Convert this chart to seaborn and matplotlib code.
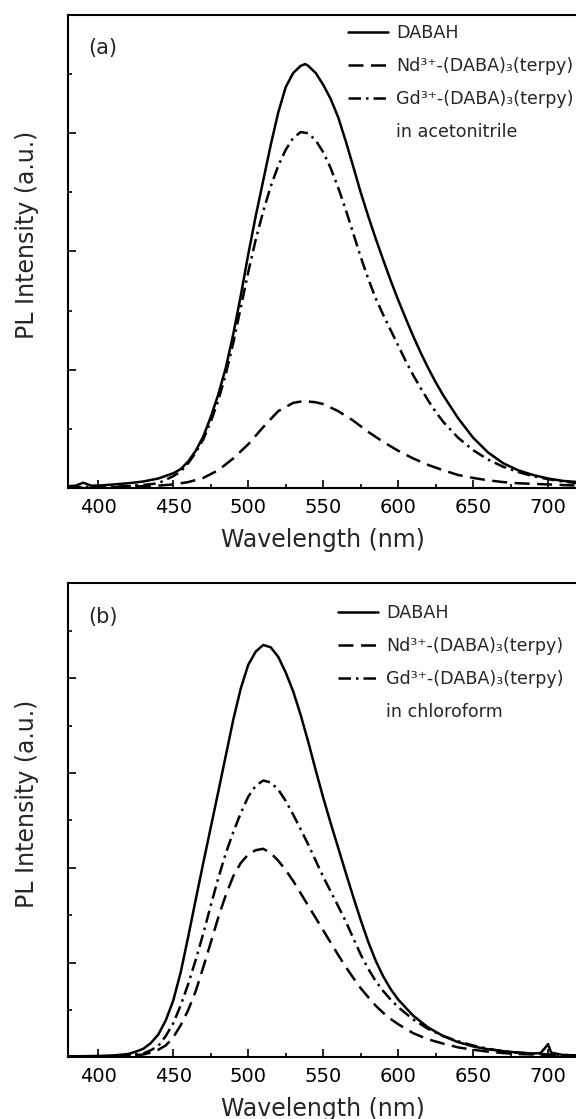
'''
PL spectra of DABAH and its Nd/Gd complexes in two solvents, two stacked panels
'''
import matplotlib
matplotlib.use('Agg')
import matplotlib.pyplot as plt
from matplotlib.lines import Line2D
from matplotlib.ticker import MultipleLocator
import pandas as pd
import seaborn as sns

SERIES = ['DABAH', 'Nd\u00b3\u207a-(DABA)\u2083(terpy)', 'Gd\u00b3\u207a-(DABA)\u2083(terpy)']

# (a) acetonitrile (arbitrary units)
a_dabah_nm = [380, 385, 390, 395, 400, 410, 420, 430, 440, 450, 455, 460, 465, 470, 475, 480, 485,
              490, 495, 500, 505, 510, 515, 520, 525, 530, 535, 538, 540, 545, 550, 555, 560, 565,
              570, 575, 580, 585, 590, 595, 600, 605, 610, 615, 620, 625, 630, 640, 650, 660, 670,
              680, 690, 700, 710, 720]
a_dabah = [0.03, 0.04, 0.09, 0.04, 0.04, 0.06, 0.08, 0.11, 0.16, 0.25, 0.32, 0.45, 0.63, 0.87, 1.2,
           1.58, 2.03, 2.6, 3.25, 3.95, 4.6, 5.2, 5.8, 6.35, 6.78, 7.02, 7.14, 7.17, 7.14, 7.02, 6.82,
           6.58, 6.27, 5.87, 5.44, 5.0, 4.6, 4.22, 3.86, 3.51, 3.18, 2.87, 2.57, 2.29, 2.03, 1.79,
           1.57, 1.18, 0.85, 0.6, 0.42, 0.3, 0.22, 0.16, 0.12, 0.1]

a_nd_nm = [380, 400, 420, 440, 450, 460, 470, 480, 490, 500, 510, 520, 530, 537, 545, 550, 560, 570,
           580, 590, 600, 610, 620, 630, 640, 650, 660, 670, 680, 690, 700, 710, 720]
a_nd = [0.0, 0.01, 0.02, 0.04, 0.06, 0.1, 0.17, 0.3, 0.5, 0.74, 1.03, 1.3, 1.44, 1.47, 1.45, 1.42,
        1.3, 1.14, 0.95, 0.78, 0.63, 0.5, 0.39, 0.3, 0.22, 0.17, 0.13, 0.1, 0.08, 0.07, 0.06, 0.05,
        0.04]

a_gd_nm = [380, 400, 420, 430, 440, 450, 455, 460, 465, 470, 475, 480, 485, 490, 495, 500, 505, 510,
           515, 520, 525, 530, 535, 540, 545, 550, 555, 560, 565, 570, 575, 580, 585, 590, 595, 600,
           605, 610, 615, 620, 625, 630, 640, 650, 660, 670, 680, 690, 700, 710, 720]
a_gd = [0.01, 0.02, 0.03, 0.05, 0.08, 0.2, 0.28, 0.42, 0.6, 0.82, 1.12, 1.48, 1.92, 2.45, 3.05, 3.65,
        4.2, 4.68, 5.1, 5.45, 5.72, 5.92, 6.02, 6.0, 5.88, 5.68, 5.41, 5.08, 4.71, 4.31, 3.91, 3.54,
        3.21, 2.93, 2.67, 2.41, 2.15, 1.91, 1.69, 1.48, 1.29, 1.12, 0.85, 0.64, 0.48, 0.36, 0.27,
        0.2, 0.15, 0.11, 0.08]

# (b) chloroform
b_dabah_nm = [380, 400, 410, 420, 425, 430, 435, 440, 445, 450, 455, 460, 465, 470, 475, 480, 485,
              490, 495, 500, 505, 510, 515, 520, 525, 530, 535, 540, 545, 550, 555, 560, 565, 570,
              575, 580, 585, 590, 595, 600, 610, 620, 630, 640, 650, 660, 670, 680, 690, 695, 698,
              700, 702, 710, 720]
b_dabah = [0.02, 0.03, 0.04, 0.07, 0.12, 0.18, 0.3, 0.48, 0.78, 1.2, 1.8, 2.55, 3.33, 4.1, 4.85, 5.6,
           6.36, 7.12, 7.78, 8.28, 8.56, 8.7, 8.65, 8.45, 8.12, 7.72, 7.22, 6.66, 6.06, 5.48, 4.94,
           4.42, 3.9, 3.39, 2.9, 2.44, 2.04, 1.71, 1.44, 1.22, 0.88, 0.63, 0.45, 0.32, 0.23, 0.17,
           0.13, 0.1, 0.08, 0.09, 0.2, 0.28, 0.1, 0.05, 0.04]

b_nd_nm = [380, 400, 420, 430, 435, 440, 445, 450, 455, 460, 465, 470, 475, 480, 485, 490, 495, 500,
           505, 510, 515, 520, 525, 530, 535, 540, 545, 550, 555, 560, 565, 570, 575, 580, 585, 590,
           595, 600, 610, 620, 630, 640, 650, 660, 670, 680, 690, 700, 710, 720]
b_nd = [0.01, 0.02, 0.03, 0.06, 0.1, 0.16, 0.25, 0.42, 0.68, 1.0, 1.4, 1.9, 2.42, 2.95, 3.42, 3.82,
        4.1, 4.28, 4.37, 4.4, 4.31, 4.15, 3.95, 3.72, 3.46, 3.2, 2.94, 2.68, 2.42, 2.16, 1.91, 1.68,
        1.46, 1.27, 1.09, 0.94, 0.81, 0.7, 0.51, 0.38, 0.29, 0.21, 0.16, 0.12, 0.09, 0.07, 0.06,
        0.05, 0.04, 0.03]

b_gd_nm = [380, 400, 420, 430, 435, 440, 445, 450, 455, 460, 465, 470, 475, 480, 485, 490, 495, 500,
           505, 510, 515, 520, 525, 530, 535, 540, 545, 550, 555, 560, 565, 570, 575, 580, 585, 590,
           595, 600, 610, 620, 630, 640, 650, 660, 670, 680, 690, 700, 710, 720]
b_gd = [0.01, 0.02, 0.04, 0.08, 0.15, 0.24, 0.45, 0.72, 1.1, 1.55, 2.06, 2.61, 3.2, 3.78, 4.3, 4.75,
        5.15, 5.5, 5.73, 5.84, 5.8, 5.65, 5.41, 5.12, 4.81, 4.49, 4.15, 3.81, 3.5, 3.19, 2.87, 2.52,
        2.17, 1.87, 1.61, 1.4, 1.22, 1.06, 0.8, 0.6, 0.45, 0.34, 0.25, 0.18, 0.13, 0.1, 0.08, 0.06,
        0.05, 0.04]

LW = 1.8
DASHES = {SERIES[0]: '', SERIES[1]: (6, 3), SERIES[2]: (5, 2, 1, 2)}


def make_df(pairs):
    parts = []
    for name, (nm, val) in zip(SERIES, pairs):
        parts.append(pd.DataFrame({'wavelength': nm, 'intensity': val, 'sample': name}))
    return pd.concat(parts, ignore_index=True)


def draw_panel(ax, df, tag, solvent, ymax, leg_xy):
    sns.lineplot(data=df, x='wavelength', y='intensity', style='sample', style_order=SERIES,
                 dashes=DASHES, color='k', lw=LW, estimator=None, legend=False, ax=ax)
    ax.set_xlim(380, 720)
    ax.set_ylim(0, ymax)
    ax.xaxis.set_major_locator(MultipleLocator(50))
    ax.xaxis.set_minor_locator(MultipleLocator(25))
    ax.yaxis.set_major_locator(MultipleLocator(2))
    ax.yaxis.set_minor_locator(MultipleLocator(1))
    ax.tick_params(which='both', direction='in', width=1.2, colors='k')
    ax.tick_params(which='major', length=6)
    ax.tick_params(which='minor', length=3)
    ax.tick_params(axis='x', labelsize=14, pad=7)
    ax.tick_params(axis='y', labelleft=False)
    for s in ax.spines.values():
        s.set_linewidth(1.5)
        s.set_color('k')
    ax.set_xlabel('Wavelength (nm)', fontsize=17, labelpad=8)
    ax.set_ylabel('PL Intensity (a.u.)', fontsize=17)
    ax.yaxis.set_label_coords(-0.0575, 0.535)
    ax.text(0.039, 0.93, tag, transform=ax.transAxes, fontsize=15, va='center', ha='left')

    # legend built by hand so the solvent line sits under the entries
    handles = [Line2D([0], [0], color='k', lw=LW, linestyle='-'),
               Line2D([0], [0], color='k', lw=LW, dashes=DASHES[SERIES[1]]),
               Line2D([0], [0], color='k', lw=LW, dashes=DASHES[SERIES[2]]),
               Line2D([0], [0], color='none')]
    ax.legend(handles, SERIES + [solvent], loc='upper left', bbox_to_anchor=leg_xy,
              frameon=False, fontsize=12.6, handlelength=2.3, handletextpad=0.45,
              labelspacing=0.85, borderpad=0, borderaxespad=0)


def main():
    sns.set_style('ticks')
    plt.rcParams['font.family'] = ['DejaVu Sans']

    fig = plt.figure(figsize=(5.76, 11.19), dpi=100)
    ax_a = fig.add_axes([0.1186, 0.5639, 0.885, 0.4227])
    ax_b = fig.add_axes([0.1186, 0.0551, 0.885, 0.4236])

    df_a = make_df([(a_dabah_nm, a_dabah), (a_nd_nm, a_nd), (a_gd_nm, a_gd)])
    df_b = make_df([(b_dabah_nm, b_dabah), (b_nd_nm, b_nd), (b_gd_nm, b_gd)])

    draw_panel(ax_a, df_a, '(a)', 'in acetonitrile', 8, (0.549, 0.98))
    draw_panel(ax_b, df_b, '(b)', 'in chloroform', 10, (0.529, 0.956))

    fig.savefig('out.png', dpi=100)


if __name__ == "__main__":
    main()
